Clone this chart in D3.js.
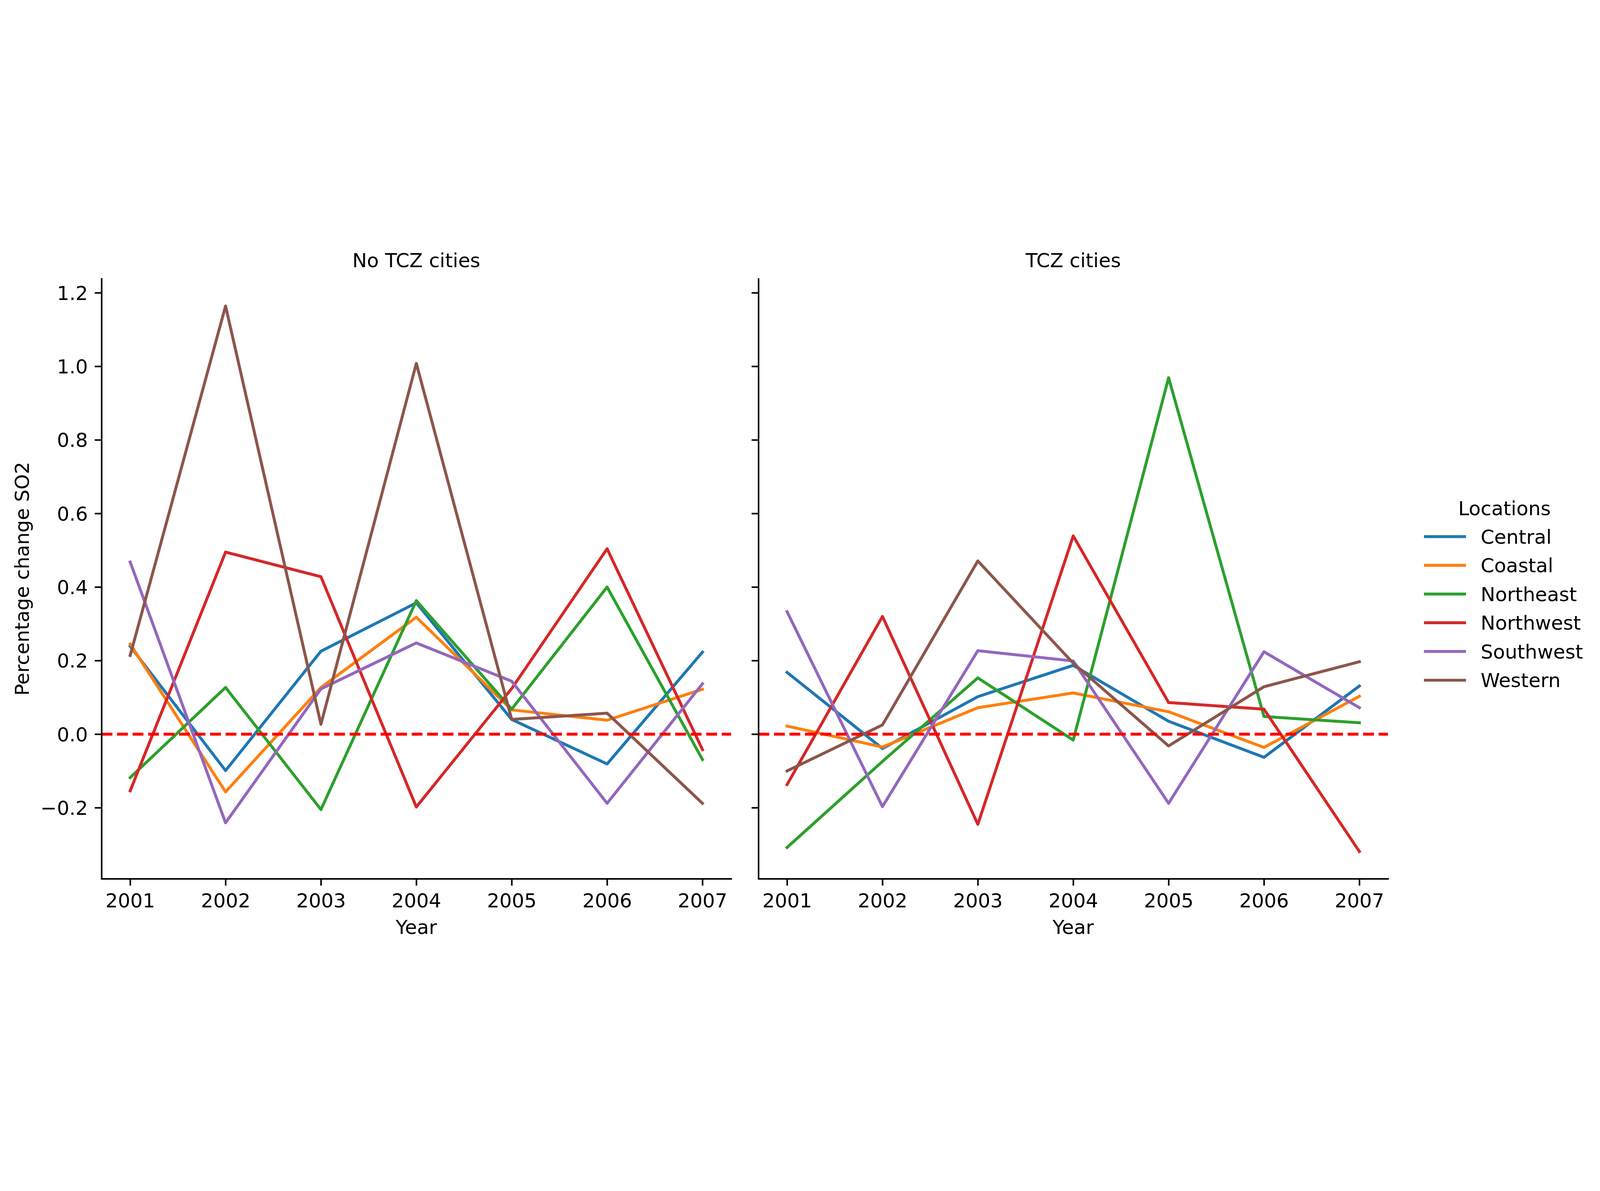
<!DOCTYPE html>
<html>
<head>
<meta charset="utf-8">
<script src="https://cdn.jsdelivr.net/npm/d3@7/dist/d3.min.js"></script>
<style>
  html, body { margin: 0; padding: 0; background: #ffffff; width: 100%; height: 100%; overflow: hidden; }
  #chart { width: 100vw; height: 100vh; }
  svg { display: block; width: 100vw; height: 100vh; }
  text { font-family: "DejaVu Sans", sans-serif; fill: #000; }
</style>
</head>
<body>
<div id="chart"></div>
<script>
// ---------------- DATA ----------------
const years = [2001, 2002, 2003, 2004, 2005, 2006, 2007];
const locations = ["Central", "Coastal", "Northeast", "Northwest", "Southwest", "Western"];
const panelTitles = ["No TCZ cities", "TCZ cities"];
const yTicks = [-0.2, 0.0, 0.2, 0.4, 0.6, 0.8, 1.0, 1.2];

// No TCZ cities
const noTczCentral   = [0.239, -0.099, 0.2255, 0.357, 0.040, -0.081, 0.223];
const noTczCoastal   = [0.245, -0.157, 0.127, 0.318, 0.066, 0.038, 0.122];
const noTczNortheast = [-0.118, 0.127, -0.205, 0.363, 0.068, 0.400, -0.069];
const noTczNorthwest = [-0.154, 0.495, 0.428, -0.198, 0.124, 0.504, -0.042];
const noTczSouthwest = [0.468, -0.241, 0.123, 0.248, 0.144, -0.188, 0.137];
const noTczWestern   = [0.214, 1.164, 0.027, 1.008, 0.040, 0.057, -0.188];

// TCZ cities
const tczCentral   = [0.168, -0.039, 0.102, 0.187, 0.035, -0.063, 0.131];
const tczCoastal   = [0.022, -0.035, 0.072, 0.112, 0.061, -0.036, 0.103];
const tczNortheast = [-0.308, -0.074, 0.153, -0.016, 0.969, 0.048, 0.031];
const tczNorthwest = [-0.137, 0.320, -0.245, 0.539, 0.086, 0.068, -0.319];
const tczSouthwest = [0.333, -0.197, 0.227, 0.199, -0.188, 0.224, 0.072];
const tczWestern   = [-0.100, 0.025, 0.471, 0.193, -0.032, 0.129, 0.197];

const panelSeries = [
  [noTczCentral, noTczCoastal, noTczNortheast, noTczNorthwest, noTczSouthwest, noTczWestern],
  [tczCentral, tczCoastal, tczNortheast, tczNorthwest, tczSouthwest, tczWestern]
];
const colors = ["#1f77b4", "#ff7f0e", "#2ca02c", "#d62728", "#9467bd", "#8c564b"];

// ---------------- LAYOUT ----------------
const W = 6837, H = 3049;
const FS = 83.33;          // 10pt @ 600dpi
const LW = 12.5;           // 1.5pt
const SW = 6.67;           // 0.8pt
const TICK = 29.2;         // 3.5pt
const axTop = 171, axBottom = 2735;
const panelX = [[434, 3124], [3241, 5931]];

const svg = d3.select("#chart").append("svg")
  .attr("viewBox", `0 0 ${W} ${H}`)
  .attr("preserveAspectRatio", "xMidYMid meet");
svg.append("rect").attr("width", W).attr("height", H).attr("fill", "#fff");

// shared y scale with matplotlib-like 5% margins
const allVals = panelSeries.flat(2);
const vmin = d3.min(allVals), vmax = d3.max(allVals);
const m = (vmax - vmin) * 0.05;
const y = d3.scaleLinear().domain([vmin - m, vmax + m]).range([axBottom, axTop]);
const xm = (d3.max(years) - d3.min(years)) * 0.05;

panelSeries.forEach((series, p) => {
  const [x0, x1] = panelX[p];
  const x = d3.scaleLinear().domain([d3.min(years) - xm, d3.max(years) + xm]).range([x0, x1]);
  const g = svg.append("g");

  // lines
  const line = d3.line().x((d, i) => x(years[i])).y(d => y(d));
  series.forEach((vals, k) => {
    g.append("path")
      .datum(vals)
      .attr("d", line)
      .attr("fill", "none")
      .attr("stroke", colors[k])
      .attr("stroke-width", LW)
      .attr("stroke-linejoin", "round")
      .attr("stroke-linecap", "square");
  });

  // zero reference line (axhline)
  g.append("line")
    .attr("x1", x0).attr("x2", x1)
    .attr("y1", y(0)).attr("y2", y(0))
    .attr("stroke", "#ff0000")
    .attr("stroke-width", LW)
    .attr("stroke-dasharray", "46.25,20");

  // x axis
  const xAxis = d3.axisBottom(x).tickValues(years).tickFormat(d3.format("d"))
    .tickSize(TICK).tickSizeOuter(0).tickPadding(TICK);
  const gx = g.append("g").attr("transform", `translate(0,${axBottom})`).call(xAxis);
  gx.select(".domain").attr("stroke", "#000").attr("stroke-width", SW).attr("stroke-linecap", "square");
  gx.selectAll(".tick line").attr("stroke", "#000").attr("stroke-width", SW);
  gx.selectAll(".tick text").attr("font-size", FS).attr("font-family", "DejaVu Sans")
    .attr("fill", "#000").attr("y", 122).attr("dy", 0);

  // y axis
  const yAxis = d3.axisLeft(y).tickValues(yTicks).tickFormat(p === 0 ? d3.format(".1f") : () => "")
    .tickSize(TICK).tickSizeOuter(0).tickPadding(TICK);
  const gy = g.append("g").attr("transform", `translate(${x0},0)`).call(yAxis);
  gy.select(".domain").attr("stroke", "#000").attr("stroke-width", SW).attr("stroke-linecap", "square");
  gy.selectAll(".tick line").attr("stroke", "#000").attr("stroke-width", SW);
  gy.selectAll(".tick text").attr("font-size", FS).attr("font-family", "DejaVu Sans")
    .attr("fill", "#000").attr("dy", "0.36em");

  // titles and labels
  const cx = (x0 + x1) / 2;
  g.append("text").attr("x", cx).attr("y", 122).attr("text-anchor", "middle")
    .attr("font-size", FS).text(panelTitles[p]);
  g.append("text").attr("x", cx).attr("y", 2971).attr("text-anchor", "middle")
    .attr("font-size", FS).text("Year");
  if (p === 0) {
    g.append("text")
      .attr("transform", `translate(123,${(axTop + axBottom) / 2}) rotate(-90)`)
      .attr("text-anchor", "middle")
      .attr("font-size", FS)
      .text("Percentage change SO2");
  }
});

// ---------------- LEGEND ----------------
const lg = svg.append("g");
lg.append("text").attr("x", 6429).attr("y", 1181).attr("text-anchor", "middle")
  .attr("font-size", FS).text("Locations");
locations.forEach((name, i) => {
  const ly = 1273 + 122.7 * i;
  lg.append("line").attr("x1", 6091).attr("x2", 6258).attr("y1", ly).attr("y2", ly)
    .attr("stroke", colors[i]).attr("stroke-width", LW).attr("stroke-linecap", "square");
  lg.append("text").attr("x", 6327).attr("y", ly + 30).attr("font-size", FS).text(name);
});
</script>
</body>
</html>
